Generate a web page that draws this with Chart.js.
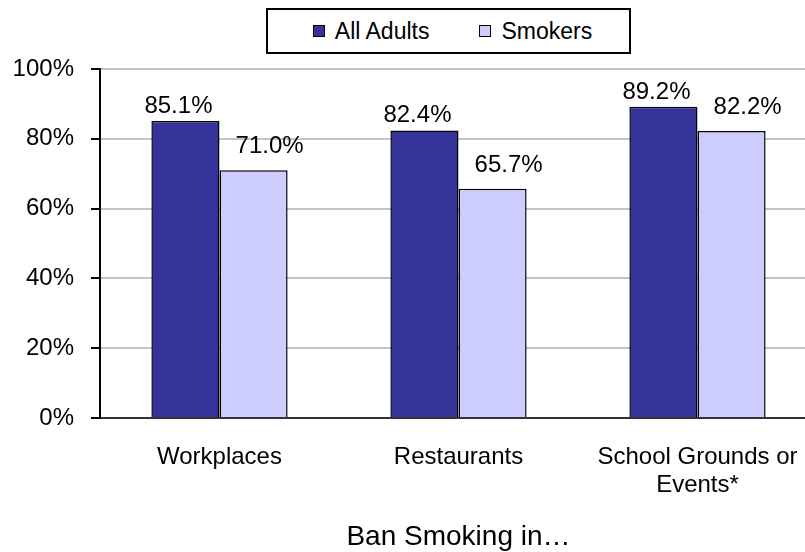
<!DOCTYPE html>
<html>
<head>
<meta charset="utf-8">
<script src="https://cdn.jsdelivr.net/npm/chart.js@4/dist/chart.umd.min.js"></script>
<style>
    body { margin: 0; background: #fff; }
    #wrap { position: relative; width: 805px; height: 552px; overflow: hidden; background: #fff; }
    #chart { position: absolute; left: 0; top: 0; }
    #legend {
        position: absolute; left: 266px; top: 8px; width: 365px; height: 46px;
        box-sizing: border-box; border: 2px solid #000; background: #fff;
        display: flex; align-items: center; justify-content: center; gap: 50px;
        padding-left: 8px;
        font-family: "Liberation Sans", Arial, sans-serif; font-size: 23px; color: #000;
    }
    #legend .item { display: flex; align-items: center; gap: 10px; }
    #legend .box { width: 10px; height: 10px; border: 1.5px solid #000; }
</style>
</head>
<body>
<div id="wrap">
    <canvas id="chart" width="830" height="552"></canvas>
    <div id="legend"></div>
</div>
<script>
'use strict';

const categories = ['Workplaces', 'Restaurants', ['School Grounds or', 'Events*']];
const seriesNames = ['All Adults', 'Smokers'];
const allAdults = [85.1, 82.4, 89.2];
const smokers = [71.0, 65.7, 82.2];

const colors = ['#333399', '#ccccff'];
// сдвиг подписей над столбцами (как в исходнике)
const labelShift = [{ dx: -7, gap: 8 }, { dx: 16, gap: 17 }];

Chart.defaults.font.family = '"Liberation Sans", Arial, sans-serif';
Chart.defaults.color = '#000';


// HTML-легенда в рамке
const htmlLegend = {
    id: 'htmlLegend',
    afterUpdate(chart) {
        const box = document.getElementById('legend');
        box.innerHTML = '';
        chart.data.datasets.forEach(ds => {
            const item = document.createElement('div');
            item.className = 'item';
            const sq = document.createElement('span');
            sq.className = 'box';
            sq.style.background = ds.backgroundColor;
            const txt = document.createElement('span');
            txt.textContent = ds.label;
            item.appendChild(sq);
            item.appendChild(txt);
            box.appendChild(item);
        });
    }
};


// подписи значений над столбцами
const valueLabels = {
    id: 'valueLabels',
    afterDatasetsDraw(chart) {
        const ctx = chart.ctx;
        ctx.save();
        ctx.font = '24px "Liberation Sans", Arial, sans-serif';
        ctx.fillStyle = '#000';
        ctx.textAlign = 'center';
        ctx.textBaseline = 'alphabetic';
        chart.data.datasets.forEach((ds, i) => {
            const meta = chart.getDatasetMeta(i);
            const s = labelShift[i];
            meta.data.forEach((bar, j) => {
                ctx.fillText(ds.data[j].toFixed(1) + '%', bar.x + s.dx, bar.y - s.gap);
            });
        });
        ctx.restore();
    }
};


new Chart(document.getElementById('chart'), {
    type: 'bar',
    data: {
        labels: categories,
        datasets: [
            {
                label: seriesNames[0],
                data: allAdults,
                backgroundColor: colors[0],
                borderColor: '#000',
                borderWidth: 1.5,
                categoryPercentage: 0.57,
                barPercentage: 1
            },
            {
                label: seriesNames[1],
                data: smokers,
                backgroundColor: colors[1],
                borderColor: '#000',
                borderWidth: 1.5,
                categoryPercentage: 0.57,
                barPercentage: 1
            }
        ]
    },
    options: {
        responsive: false,
        animation: false,
        devicePixelRatio: 1,
        layout: { padding: { top: 69, left: 0, right: 13, bottom: 0 } },
        plugins: {
            legend: { display: false },
            tooltip: { enabled: false }
        },
        scales: {
            x: {
                afterFit: scale => { scale.height = 134; },
                grid: { display: false, drawTicks: false },
                border: { display: true, color: '#333', width: 2 },
                ticks: {
                    font: { size: 24, lineHeight: 1.15 },
                    padding: 26,
                    maxRotation: 0,
                    autoSkip: false
                },
                title: {
                    display: true,
                    text: 'Ban Smoking in…',
                    font: { size: 28, lineHeight: 1.0 },
                    padding: { top: 0, bottom: 1 }
                }
            },
            y: {
                min: 0,
                max: 100,
                afterFit: scale => { scale.width = 100; },
                grid: {
                    color: '#c4c4c4',
                    lineWidth: 2,
                    tickColor: '#000',
                    tickWidth: 2,
                    tickLength: 9
                },
                border: { display: true, color: '#000', width: 2 },
                ticks: {
                    stepSize: 20,
                    padding: 17,
                    font: { size: 24 },
                    callback: v => v + '%'
                }
            }
        }
    },
    plugins: [htmlLegend, valueLabels]
});
</script>
</body>
</html>
